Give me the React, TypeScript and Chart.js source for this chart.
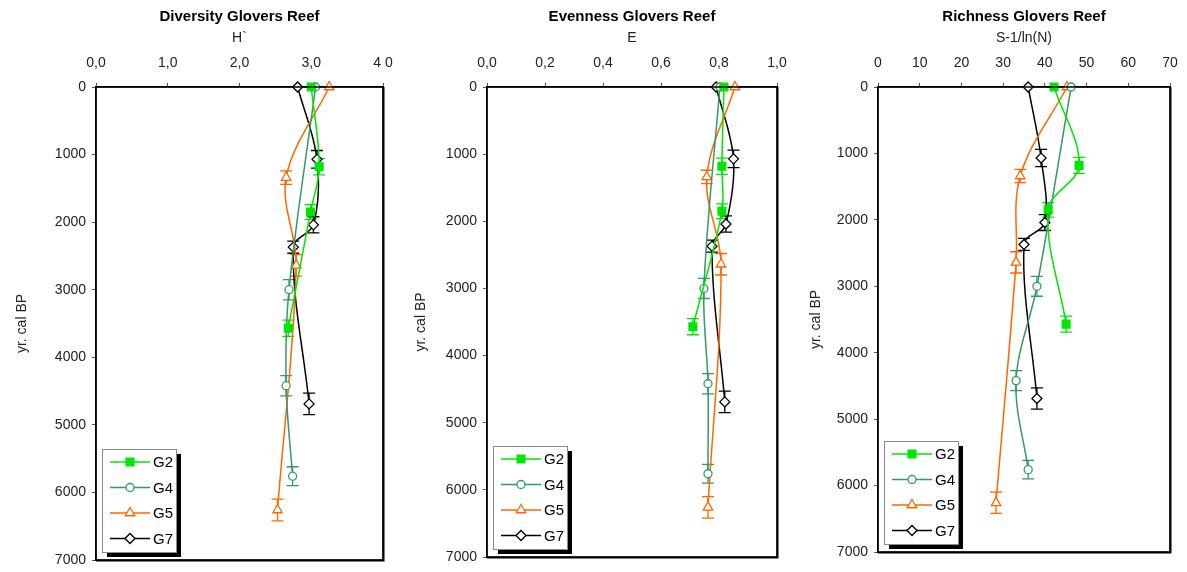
import React, { useEffect, useRef } from "react";
import { Chart, registerables } from "chart.js";
import { drawPoint } from "chart.js/helpers";

Chart.register(...registerables);

const FONT = "'Liberation Sans', Arial, Helvetica, sans-serif";

// ---- data ----
const SITES = ["G2", "G4", "G5", "G7"];
const COLORS = ["#00e600", "#339966", "#ff6600", "#000000"];
const POINT_STYLES = ["rect", "circle", "triangle", "rectRot"];
const POINT_FILLS = ["#00e600", "#ffffff", "#ffffff", "#ffffff"];
const POINT_RADII = [5.5, 4, 5.5, 5];

// ages (yr cal BP) and age errors, shared by all three panels
const AGE_G2 = [0, 1180, 1850, 3570];
const ERR_G2 = [0, 120, 110, 120];
const AGE_G4 = [0, 3000, 4420, 5760];
const ERR_G4 = [0, 150, 150, 140];
const AGE_G5 = [0, 1340, 2640, 6260];
const ERR_G5 = [0, 100, 160, 160];
const AGE_G7 = [0, 1070, 2040, 2370, 4690];
const ERR_G7 = [0, 130, 120, 90, 160];

// Diversity H'
const H_G2 = [3.0, 3.11, 2.99, 2.68];
const H_G4 = [3.06, 2.69, 2.65, 2.74];
const H_G5 = [3.25, 2.65, 2.79, 2.53];
const H_G7 = [2.81, 3.08, 3.03, 2.75, 2.97];

// Evenness E
const E_G2 = [0.817, 0.81, 0.81, 0.71];
const E_G4 = [0.803, 0.748, 0.762, 0.762];
const E_G5 = [0.855, 0.758, 0.807, 0.762];
const E_G7 = [0.79, 0.85, 0.824, 0.776, 0.82];

// Richness S-1/ln(N)
const R_G2 = [42.2, 48.2, 40.8, 45.1];
const R_G4 = [46.3, 38.1, 33.1, 36.0];
const R_G5 = [45.3, 34.1, 33.1, 28.3];
const R_G7 = [36.0, 39.1, 40.0, 35.0, 38.1];

const H_TICKS = ["0,0", "1,0", "2,0", "3,0", "4 0"];
const E_TICKS = ["0,0", "0,2", "0,4", "0,6", "0,8", "1,0"];
const R_TICKS = ["0", "10", "20", "30", "40", "50", "60", "70"];
const AGE_TICKS = ["0", "1000", "2000", "3000", "4000", "5000", "6000", "7000"];

const AGES = [AGE_G2, AGE_G4, AGE_G5, AGE_G7];
const ERRS = [ERR_G2, ERR_G4, ERR_G5, ERR_G7];

// ---- plugins ----
const frameAndErrors = {
  id: "frameAndErrors",
  beforeDatasetsDraw(chart: any) {
    const { ctx } = chart;
    const xs = chart.scales.x;
    const ys = chart.scales.y;
    chart.data.datasets.forEach((ds: any) => {
      ds.data.forEach((p: any, i: number) => {
        const e = ds.errs[i];
        if (!e) return;
        const x = xs.getPixelForValue(p.x);
        const y1 = ys.getPixelForValue(p.y - e);
        const y2 = ys.getPixelForValue(p.y + e);
        ctx.save();
        ctx.strokeStyle = ds.borderColor;
        ctx.lineWidth = 1.3;
        ctx.beginPath();
        ctx.moveTo(x, y1);
        ctx.lineTo(x, y2);
        ctx.moveTo(x - 6, y1);
        ctx.lineTo(x + 6, y1);
        ctx.moveTo(x - 6, y2);
        ctx.lineTo(x + 6, y2);
        ctx.stroke();
        ctx.restore();
      });
    });
  },
  afterDraw(chart: any) {
    const { ctx, chartArea: a } = chart;
    ctx.save();
    ctx.strokeStyle = "#000";
    ctx.lineWidth = 1.5;
    ctx.strokeRect(a.left, a.top, a.right - a.left, a.bottom - a.top);
    ctx.lineWidth = 2;
    ctx.beginPath();
    ctx.moveTo(a.right + 0.5, a.top);
    ctx.lineTo(a.right + 0.5, a.bottom + 0.5);
    ctx.lineTo(a.left, a.bottom + 0.5);
    ctx.stroke();

    // legend box
    const w = 74;
    const h = 103;
    const bx = a.left + 6;
    const by = a.bottom - 8 - h;
    ctx.fillStyle = "#000";
    ctx.fillRect(bx + 5, by + 5, w, h);
    ctx.fillStyle = "#fff";
    ctx.fillRect(bx, by, w, h);
    ctx.strokeStyle = "#8a8a8a";
    ctx.lineWidth = 1;
    ctx.strokeRect(bx + 0.5, by + 0.5, w, h);
    chart.data.datasets.forEach((ds: any, i: number) => {
      const y = by + 13 + i * 25.5;
      ctx.strokeStyle = ds.borderColor;
      ctx.lineWidth = 1.5;
      ctx.beginPath();
      ctx.moveTo(bx + 8, y);
      ctx.lineTo(bx + 48, y);
      ctx.stroke();
      ctx.fillStyle = ds.pointBackgroundColor;
      ctx.strokeStyle = ds.borderColor;
      ctx.lineWidth = 1.3;
      drawPoint(ctx, { pointStyle: ds.pointStyle, rotation: 0, radius: ds.pointRadius, borderWidth: 1.3 }, bx + 28, y);
      ctx.fillStyle = "#000";
      ctx.font = "15px " + FONT;
      ctx.textBaseline = "middle";
      ctx.textAlign = "left";
      ctx.fillText(ds.label, bx + 51, y + 1);
    });
    ctx.restore();
  },
};

type PanelCfg = {
  title: string;
  subtitle: string;
  values: number[][];
  xMax: number;
  xStep: number;
  xTicks: string[];
  left: number;
  width: number;
  yW: number;
  padR: number;
  padB: number;
  yTitlePad: number;
};

const PANELS: PanelCfg[] = [
  { title: "Diversity Glovers Reef", subtitle: "H`", values: [H_G2, H_G4, H_G5, H_G7], xMax: 4, xStep: 1, xTicks: H_TICKS, left: 0, width: 395, yW: 96, padR: 12, padB: 12, yTitlePad: 14 },
  { title: "Evenness Glovers Reef", subtitle: "E", values: [E_G2, E_G4, E_G5, E_G7], xMax: 1, xStep: 0.2, xTicks: E_TICKS, left: 395, width: 395, yW: 92, padR: 13, padB: 15, yTitlePad: 18 },
  { title: "Richness Glovers Reef", subtitle: "S-1/ln(N)", values: [R_G2, R_G4, R_G5, R_G7], xMax: 70, xStep: 10, xTicks: R_TICKS, left: 790, width: 397, yW: 88, padR: 17, padB: 20, yTitlePad: 18 },
];

function Panel({ cfg }: { cfg: PanelCfg }) {
  const ref = useRef<HTMLCanvasElement>(null);
  useEffect(() => {
    const datasets = SITES.map((s, si) => ({
      label: s,
      data: cfg.values[si].map((v, i) => ({ x: v, y: AGES[si][i] })),
      errs: ERRS[si],
      borderColor: COLORS[si],
      backgroundColor: COLORS[si],
      pointBackgroundColor: POINT_FILLS[si],
      pointBorderColor: COLORS[si],
      pointStyle: POINT_STYLES[si],
      pointRadius: POINT_RADII[si],
      pointBorderWidth: 1.3,
      borderWidth: 1.5,
      showLine: true,
      tension: 0.35,
      fill: false,
      clip: false,
    }));
    const tickFont = { family: FONT, size: 14 };
    const chart = new Chart(ref.current as HTMLCanvasElement, {
      type: "scatter",
      data: { datasets: datasets as any },
      options: {
        responsive: false,
        maintainAspectRatio: false,
        devicePixelRatio: 1,
        animation: false,
        layout: { padding: { left: 0, top: 0, right: cfg.padR, bottom: cfg.padB } },
        plugins: {
          legend: { display: false },
          tooltip: { enabled: false },
          title: {
            display: true,
            text: cfg.title,
            fullSize: false,
            color: "#000",
            font: { family: FONT, size: 15, weight: "bold" },
            padding: { top: 8, bottom: 2 },
          },
          subtitle: {
            display: true,
            text: cfg.subtitle,
            fullSize: false,
            color: "#222",
            font: { family: FONT, size: 14 },
            padding: { top: 2, bottom: 0 },
          },
        },
        scales: {
          x: {
            type: "linear",
            position: "top",
            min: 0,
            max: cfg.xMax,
            ticks: {
              stepSize: cfg.xStep,
              color: "#222",
              font: tickFont,
              padding: 11,
              callback: (v: any) => cfg.xTicks[Math.round(Number(v) / cfg.xStep)] ?? "",
            },
            grid: { display: true, drawOnChartArea: false, tickLength: 4, color: "#555" },
            border: { display: true, color: "#000", width: 1.5 },
            afterFit: (s: any) => {
              s.height = 40.2;
              s.paddingLeft = 0;
              s.paddingRight = 0;
            },
          },
          y: {
            type: "linear",
            reverse: true,
            min: 0,
            max: 7000,
            ticks: {
              stepSize: 1000,
              color: "#222",
              font: tickFont,
              padding: 6,
              callback: (v: any) => AGE_TICKS[Math.round(Number(v) / 1000)] ?? "",
            },
            title: {
              display: true,
              text: "yr. cal BP",
              color: "#222",
              font: { family: FONT, size: 14 },
              padding: { top: cfg.yTitlePad, bottom: 0 },
            },
            grid: { display: true, drawOnChartArea: false, tickLength: 4, color: "#555" },
            border: { display: true, color: "#000", width: 1.5 },
            afterFit: (s: any) => {
              s.width = cfg.yW;
              s.paddingTop = 0;
              s.paddingBottom = 0;
            },
          },
        },
      },
      plugins: [frameAndErrors],
    } as any);
    return () => chart.destroy();
  }, []);
  return (
    <canvas
      ref={ref}
      width={cfg.width}
      height={572}
      style={{ position: "absolute", left: cfg.left, top: 0, width: cfg.width, height: 572 }}
    />
  );
}

export default function App() {
  return (
    <div style={{ position: "absolute", left: 0, top: 0, width: 1187, height: 572, background: "#fff", overflow: "hidden" }}>
      {PANELS.map((p) => (
        <Panel key={p.title} cfg={p} />
      ))}
    </div>
  );
}
